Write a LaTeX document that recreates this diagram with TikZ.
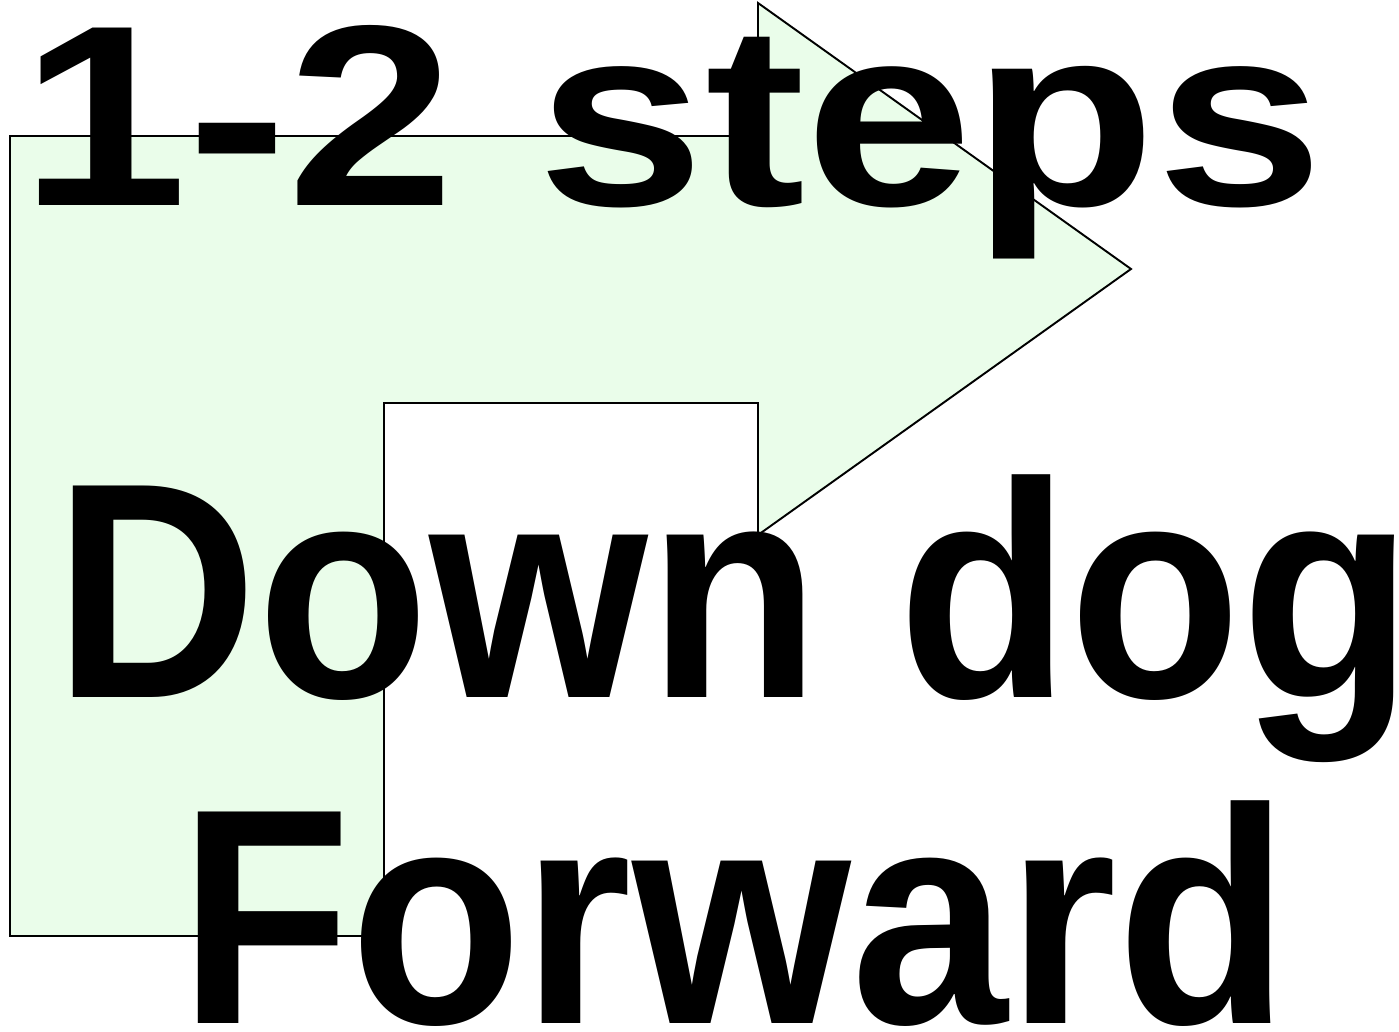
\documentclass[tikz,border=0pt]{standalone}
\usepackage{fontspec}
\setmainfont{Liberation Sans}
\usepackage{xcolor}
\usepackage{tikz}
\usetikzlibrary{positioning}

\definecolor{paleGreen}{HTML}{EAFDEA}

\begin{document}
\begin{tikzpicture}[
    x=0.02cm, y=0.02cm,
    bentarrow/.style={draw=black, line width=1.1pt, fill=paleGreen, line join=miter},
    bigtext/.style={inner sep=0pt, anchor=base, font=\fontsize{175pt}{185pt}\selectfont\bfseries}
]
\useasboundingbox (0,0) rectangle (1399,1031);

% Shape
\draw [bentarrow] (10,95) -- (10,895) -- (758,895) -- (758,1028) -- (1131,762)
    -- (758,496) -- (758,628) -- (384,628) -- (384,95) -- cycle;

% Nodes
\node (steps) [bigtext] at (672,825) {\scalebox{0.978}[0.839]{1-2 steps}};
\node (down) [bigtext] at (734,333) {\scalebox{0.915}[1]{Down dog}};
\node (forward) [bigtext] at (734,8) {\scalebox{0.915}[1]{Forward}};

\end{tikzpicture}
\end{document}
